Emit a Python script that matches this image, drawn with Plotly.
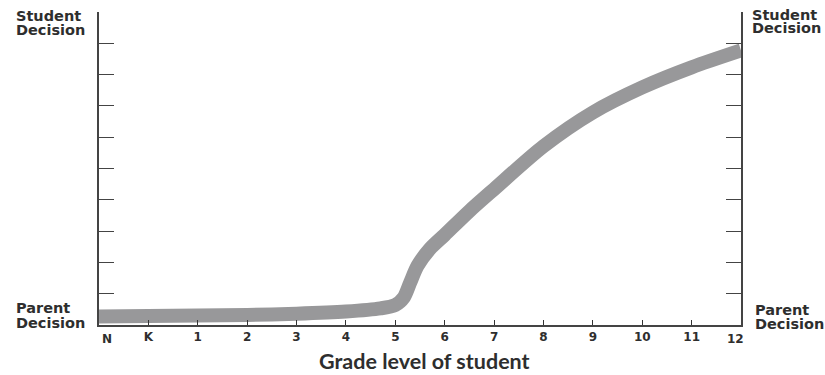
import plotly.graph_objects as go

# Grade positions (N=0, K=1, 1=2, ..., 12=13)
tick_positions = list(range(14))
tick_labels = ["N", "K", "1", "2", "3", "4", "5", "6", "7", "8", "9", "10", "11", "12"]
x_title = "Grade level of student"

# Curve (decision-making scale 0 = parent, 10 = student)
curve_x = [0, 1, 2, 3, 4, 5, 5.7, 6.0, 6.17, 6.3, 6.45, 6.7, 7.0, 7.5, 8, 9, 10, 11, 12, 13]
curve_y = [0.27, 0.29, 0.30, 0.32, 0.36, 0.43, 0.53, 0.64, 0.875, 1.35, 1.89, 2.43,
           2.88, 3.64, 4.34, 5.71, 6.79, 7.59, 8.23, 8.77]

y_ticks = list(range(11))

FONT = "DejaVu Sans"
TXT = "#2e2e2e"

fig = go.Figure()
fig.add_trace(go.Scatter(
    x=curve_x, y=curve_y, mode="lines",
    line=dict(color="#98989a", width=14, shape="spline", smoothing=0.8),
    hoverinfo="skip", showlegend=False,
))

W, H = 825, 375
L, R, T, B = 99, 84, 12, 50
pw, ph = W - L - R, H - T - B


def px2paper(px, py):
    return (px - L) / pw, (H - B - py) / ph


annotations = []


def add_text(text, px, py, size=14.5, anchor="left", family=FONT):
    xp, yp = px2paper(px, py)
    annotations.append(dict(
        text=f"<b>{text}</b>", xref="paper", yref="paper",
        x=xp, y=yp, xanchor=anchor, yanchor="middle", showarrow=False,
        font=dict(family=family, size=size, color=TXT),
    ))


add_text("Student", 14, 16)
add_text("Decision", 14, 30)
add_text("Student", 750, 14.5)
add_text("Decision", 750, 28)
add_text("Parent", 14, 308)
add_text("Decision", 14, 322.5)
add_text("Parent", 753, 309.5)
add_text("Decision", 753, 324)

# edge tick labels placed slightly inside the axis ends
edge_text = [""] + tick_labels[1:-1] + [""]
add_text(tick_labels[0], 107, 339, size=12, anchor="center")
add_text(tick_labels[-1], 735, 339, size=12, anchor="center")

# axis title
add_text(x_title, 424, 361, size=21.5, anchor="center", family="Lato")

fig.update_layout(
    width=W, height=H,
    margin=dict(l=L, r=R, t=T, b=B, autoexpand=False),
    plot_bgcolor="white", paper_bgcolor="white",
    annotations=annotations,
    xaxis=dict(
        range=[0, 13], tickvals=tick_positions, ticktext=edge_text,
        ticks="inside", ticklen=5, tickwidth=1.3, tickcolor="#333",
        showline=True, linecolor="#444", linewidth=2, mirror=False,
        showgrid=False, zeroline=False, ticklabelstandoff=0, automargin=False,
        tickfont=dict(family=FONT, size=12, color=TXT, weight="bold"),
    ),
    yaxis=dict(
        range=[0, 10], tickvals=y_ticks, showticklabels=False,
        ticks="inside", ticklen=15, tickwidth=1.3, tickcolor="#444",
        showline=True, linecolor="#444", linewidth=2, mirror="ticks",
        showgrid=False, zeroline=False, automargin=False,
    ),
)

fig.write_html(
    "out.html",
    config={"displayModeBar": False},
    post_script="document.body.style.margin='0';document.body.style.overflow='hidden';",
)
